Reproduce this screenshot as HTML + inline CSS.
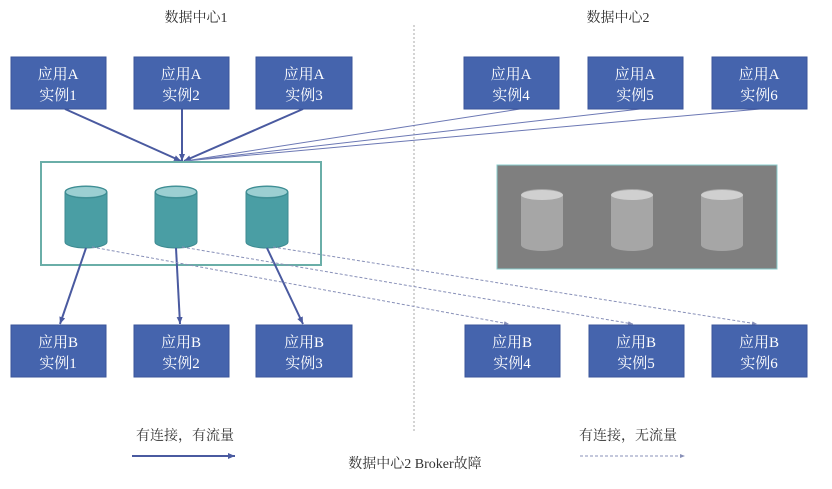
<!DOCTYPE html>
<html><head><meta charset="utf-8"><style>
body{margin:0;background:#fff;}
svg text{font-family:"Liberation Serif","Noto Serif CJK SC",serif;}
</style></head><body>
<svg width="832" height="484" viewBox="0 0 832 484" xmlns="http://www.w3.org/2000/svg">
<defs>
<marker id="ah" markerWidth="8" markerHeight="8" refX="7" refY="4" orient="auto" markerUnits="userSpaceOnUse"><path d="M0,1 L7,4 L0,7z" fill="#4a5aa0"/></marker>
<marker id="ahd" markerWidth="6" markerHeight="6" refX="5" refY="3" orient="auto" markerUnits="userSpaceOnUse"><path d="M0,1 L5,3 L0,5z" fill="#8890b8"/></marker>
<g id="cyl"><path d="M-21,0 L-21,50 A21,6 0 0 0 21,50 L21,0 Z"/><ellipse cx="0" cy="0" rx="21" ry="6"/></g>
</defs>
<line x1="414" y1="25" x2="414" y2="432" stroke="#aaa" stroke-width="1" stroke-dasharray="2,2"/>
<g font-size="14" fill="#333" text-anchor="middle">
<text x="196" y="22">数据中心1</text><text x="618" y="22">数据中心2</text>
<text x="185" y="440">有连接，有流量</text><text x="628" y="440">有连接，无流量</text>
<text x="415" y="468">数据中心2 Broker故障</text>
</g>
<!-- lines A -->
<g stroke="#4a5aa0" stroke-width="2" marker-end="url(#ah)">
<line x1="65" y1="109" x2="181" y2="161"/><line x1="182" y1="109" x2="182" y2="161"/><line x1="303" y1="109" x2="184" y2="161"/>
</g>
<g stroke="#6c78b4" stroke-width="1">
<line x1="520" y1="109" x2="185" y2="161"/><line x1="640" y1="109" x2="185" y2="161"/><line x1="760" y1="109" x2="185" y2="161"/>
</g>
<rect x="41" y="162" width="280" height="103" fill="none" stroke="#6aaea8" stroke-width="2"/>
<rect x="497" y="165" width="280" height="104" fill="#7f7f7f" stroke="#8cc" stroke-width="1"/>
<g fill="#4a9ea4" stroke="#3d8a90"><use href="#cyl" x="86" y="192"/><use href="#cyl" x="176" y="192"/><use href="#cyl" x="267" y="192"/></g>
<g fill="#9ccfd2" stroke="none"><ellipse cx="86" cy="192" rx="20" ry="5"/><ellipse cx="176" cy="192" rx="20" ry="5"/><ellipse cx="267" cy="192" rx="20" ry="5"/></g>
<g fill="#a6a6a6" stroke="none"><use href="#cyl" x="542" y="195"/><use href="#cyl" x="632" y="195"/><use href="#cyl" x="722" y="195"/></g>
<g fill="#d0d0d0"><ellipse cx="542" cy="195" rx="21" ry="5"/><ellipse cx="632" cy="195" rx="21" ry="5"/><ellipse cx="722" cy="195" rx="21" ry="5"/></g>
<g stroke="#4a5aa0" stroke-width="2" marker-end="url(#ah)">
<line x1="86" y1="248" x2="60" y2="324"/><line x1="176" y1="248" x2="180" y2="324"/><line x1="267" y1="248" x2="303" y2="324"/>
</g>
<g stroke="#8890b8" stroke-width="1" stroke-dasharray="3,2" marker-end="url(#ahd)">
<line x1="92" y1="247" x2="509" y2="324"/><line x1="182" y1="247" x2="633" y2="324"/><line x1="273" y1="247" x2="757" y2="324"/>
<line x1="580" y1="456" x2="685" y2="456"/>
</g>
<line x1="132" y1="456" x2="235" y2="456" stroke="#4a5aa0" stroke-width="2" marker-end="url(#ah)"/>
<g fill="#4564ad" stroke="#3a559a">
<rect x="11" y="57" width="95" height="52"/><rect x="134" y="57" width="95" height="52"/><rect x="256" y="57" width="96" height="52"/>
<rect x="464" y="57" width="95" height="52"/><rect x="588" y="57" width="95" height="52"/><rect x="712" y="57" width="95" height="52"/>
<rect x="11" y="325" width="95" height="52"/><rect x="134" y="325" width="95" height="52"/><rect x="256" y="325" width="96" height="52"/>
<rect x="465" y="325" width="95" height="52"/><rect x="589" y="325" width="95" height="52"/><rect x="712" y="325" width="95" height="52"/>
</g>
<g font-size="15" fill="#fff" text-anchor="middle">
<text x="58" y="79">应用A</text><text x="58" y="100">实例1</text>
<text x="181" y="79">应用A</text><text x="181" y="100">实例2</text>
<text x="304" y="79">应用A</text><text x="304" y="100">实例3</text>
<text x="511" y="79">应用A</text><text x="511" y="100">实例4</text>
<text x="635" y="79">应用A</text><text x="635" y="100">实例5</text>
<text x="759" y="79">应用A</text><text x="759" y="100">实例6</text>
<text x="58" y="347">应用B</text><text x="58" y="368">实例1</text>
<text x="181" y="347">应用B</text><text x="181" y="368">实例2</text>
<text x="304" y="347">应用B</text><text x="304" y="368">实例3</text>
<text x="512" y="347">应用B</text><text x="512" y="368">实例4</text>
<text x="636" y="347">应用B</text><text x="636" y="368">实例5</text>
<text x="759" y="347">应用B</text><text x="759" y="368">实例6</text>
</g>
</svg>
</body></html>
